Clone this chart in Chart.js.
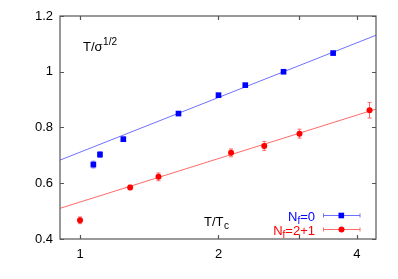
<!DOCTYPE html>
<html>
<head>
<meta charset="utf-8">
<script src="https://cdn.jsdelivr.net/npm/chart.js@4.4.1/dist/chart.umd.min.js"></script>
<style>
  html, body { margin: 0; padding: 0; background: #fff; }
  #wrap { width: 398px; height: 279px; }
</style>
</head>
<body>
<div id="wrap"><canvas id="chart" width="398" height="279"></canvas></div>
<script>
// values
const xTicks = [1, 2, 3, 4];
const xTickLabels = ['1', '2', '', '4'];
const yTicks = [0.4, 0.6, 0.8, 1.0, 1.2];
const yTickLabels = ['0.4', '0.6', '0.8', '1', '1.2'];

const quenchedX = [1.069, 1.105, 1.242, 1.637, 2.0, 2.287, 2.77, 3.55];
const quenchedY = [0.667, 0.703, 0.758, 0.85, 0.916, 0.952, 1.0, 1.067];
const quenchedErr = [0.012, 0.01, 0.008, 0.006, 0.006, 0.006, 0.006, 0.006];

const dynX = [1.0, 1.285, 1.481, 2.13, 2.515, 3.0, 4.26];
const dynY = [0.467, 0.585, 0.623, 0.709, 0.734, 0.778, 0.862];
const dynErr = [0.012, 0.008, 0.014, 0.014, 0.016, 0.016, 0.028];

// fit lines, endpoints at the plot edges
const fitX = [0.9046, 4.40];
const quenchedFitY = [0.683, 1.131];
const dynFitY = [0.510, 0.866];

const BLUE = '#0000ff', RED = '#ff0000';
const BLUE_L = '#7070ff', RED_L = '#ff6a6a';
const AXIS = '#555';
const FONT = '"Liberation Sans", Arial, Helvetica, sans-serif';

function pts(xs, ys) { return xs.map((x, i) => ({ x: x, y: ys[i] })); }

// error bars, frame, inward ticks, labels and legend
const decor = {
  id: 'decor',
  beforeDatasetsDraw(chart) {
    const ctx = chart.ctx, xs = chart.scales.x, ys = chart.scales.y;
    const bars = [[quenchedX, quenchedY, quenchedErr, BLUE_L], [dynX, dynY, dynErr, RED_L]];
    ctx.save();
    ctx.lineWidth = 1;
    bars.forEach(b => {
      ctx.strokeStyle = b[3];
      b[0].forEach((x, i) => {
        const px = xs.getPixelForValue(x);
        const top = ys.getPixelForValue(b[1][i] + b[2][i]);
        const bot = ys.getPixelForValue(b[1][i] - b[2][i]);
        ctx.beginPath();
        ctx.moveTo(px, top); ctx.lineTo(px, bot);
        ctx.moveTo(px - 2, top); ctx.lineTo(px + 2, top);
        ctx.moveTo(px - 2, bot); ctx.lineTo(px + 2, bot);
        ctx.stroke();
      });
    });
    ctx.restore();
  },
  afterDraw(chart) {
    const ctx = chart.ctx, a = chart.chartArea;
    const xs = chart.scales.x, ys = chart.scales.y;
    ctx.save();
    ctx.strokeStyle = AXIS;
    ctx.lineWidth = 1.2;
    ctx.strokeRect(a.left, a.top, a.right - a.left, a.bottom - a.top);
    ctx.beginPath();
    xTicks.forEach(t => {
      const px = Math.round(xs.getPixelForValue(t)) + 0.5;
      ctx.moveTo(px, a.bottom); ctx.lineTo(px, a.bottom - 4);
      ctx.moveTo(px, a.top); ctx.lineTo(px, a.top + 4);
    });
    yTicks.forEach(t => {
      const py = Math.round(ys.getPixelForValue(t)) + 0.5;
      ctx.moveTo(a.left, py); ctx.lineTo(a.left + 4, py);
      ctx.moveTo(a.right, py); ctx.lineTo(a.right - 4, py);
    });
    ctx.stroke();

    // axis labels inside the plot
    ctx.fillStyle = '#000';
    ctx.textBaseline = 'alphabetic';
    ctx.font = '13px ' + FONT;
    let x = 83, y = 51;
    ctx.fillText('T/σ', x, y);
    x += ctx.measureText('T/σ').width;
    ctx.font = '10px ' + FONT;
    ctx.fillText('1/2', x + 0.5, y - 6);

    ctx.font = '13px ' + FONT;
    x = 204; y = 226;
    ctx.fillText('T/T', x, y);
    x += ctx.measureText('T/T').width;
    ctx.font = '10px ' + FONT;
    ctx.fillText('c', x + 0.5, y + 3);

    // legend
    const rows = [['=0', BLUE, BLUE_L, 'rect', 215.5], ['=2+1', RED, RED_L, 'circle', 229.5]];
    rows.forEach(r => {
      const baseY = r[4] + 5;
      ctx.font = '13px ' + FONT;
      const wN = ctx.measureText('N').width;
      const wRest = ctx.measureText(r[0]).width;
      ctx.font = '10px ' + FONT;
      const wF = ctx.measureText('f').width;
      let lx = 315 - (wN + wF + wRest);
      ctx.fillStyle = r[1];
      ctx.font = '13px ' + FONT;
      ctx.fillText('N', lx, baseY);
      lx += wN;
      ctx.font = '10px ' + FONT;
      ctx.fillText('f', lx, baseY + 3);
      lx += wF;
      ctx.font = '13px ' + FONT;
      ctx.fillText(r[0], lx, baseY);

      ctx.strokeStyle = r[2];
      ctx.lineWidth = 1;
      ctx.beginPath();
      ctx.moveTo(323.5, r[4]); ctx.lineTo(360, r[4]);
      ctx.moveTo(323.5, r[4] - 2); ctx.lineTo(323.5, r[4] + 2);
      ctx.moveTo(360, r[4] - 2); ctx.lineTo(360, r[4] + 2);
      ctx.stroke();
      ctx.fillStyle = r[1];
      if (r[3] === 'rect') {
        ctx.fillRect(338.5, r[4] - 2.8, 5.6, 5.6);
      } else {
        ctx.beginPath();
        ctx.arc(341.5, r[4], 3, 0, Math.PI * 2);
        ctx.fill();
      }
    });
    ctx.restore();
  }
};

new Chart(document.getElementById('chart'), {
  type: 'scatter',
  data: {
    datasets: [
      { data: pts(quenchedX, quenchedY), pointStyle: 'rect', pointRadius: 4,
        backgroundColor: BLUE, borderColor: BLUE, borderWidth: 0, order: 0 },
      { data: pts(dynX, dynY), pointStyle: 'circle', pointRadius: 3,
        backgroundColor: RED, borderColor: RED, borderWidth: 0, order: 0 },
      { type: 'line', data: pts(fitX, quenchedFitY), borderColor: BLUE_L, borderWidth: 1,
        pointRadius: 0, fill: false, order: 1 },
      { type: 'line', data: pts(fitX, dynFitY), borderColor: RED_L, borderWidth: 1,
        pointRadius: 0, fill: false, order: 1 }
    ]
  },
  options: {
    responsive: false,
    animation: false,
    layout: { padding: { top: 16, right: 22, left: 0, bottom: 0 } },
    plugins: { legend: { display: false }, tooltip: { enabled: false } },
    scales: {
      x: {
        type: 'logarithmic', min: fitX[0], max: fitX[1],
        grid: { display: false, drawTicks: false },
        border: { display: false },
        afterBuildTicks(s) { s.ticks = xTicks.map(v => ({ value: v })); },
        afterFit(s) { s.height = 40; },
        ticks: {
          color: '#000', padding: 8, maxRotation: 0, autoSkip: false,
          font: { family: FONT, size: 13 },
          callback(v) { const i = xTicks.indexOf(v); return i < 0 ? '' : xTickLabels[i]; }
        }
      },
      y: {
        type: 'linear', min: 0.4, max: 1.2,
        grid: { display: false, drawTicks: false },
        border: { display: false },
        afterBuildTicks(s) { s.ticks = yTicks.map(v => ({ value: v })); },
        afterFit(s) { s.width = 60; },
        ticks: {
          color: '#000', padding: 7,
          font: { family: FONT, size: 13 },
          callback(v) {
            const i = yTicks.findIndex(t => Math.abs(t - v) < 1e-6);
            return i < 0 ? '' : yTickLabels[i];
          }
        }
      }
    }
  },
  plugins: [decor]
});
</script>
</body>
</html>
